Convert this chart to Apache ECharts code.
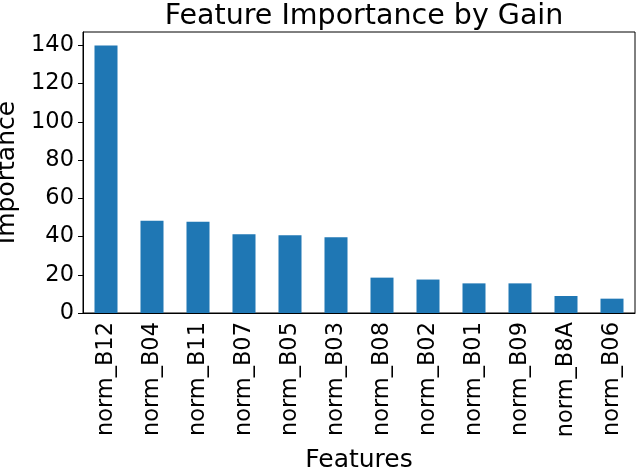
<!DOCTYPE html>
<html>
<head>
<meta charset="utf-8">
<script src="https://cdn.jsdelivr.net/npm/echarts@6/dist/echarts.min.js"></script>
<style>
  html, body { margin: 0; padding: 0; background: #fff; }
  #chart { width: 640px; height: 467px; }
</style>
</head>
<body>
<div id="chart"></div>
<script>
// 特征名 & 增益
const features = ['norm_B12', 'norm_B04', 'norm_B11', 'norm_B07', 'norm_B05', 'norm_B03',
  'norm_B08', 'norm_B02', 'norm_B01', 'norm_B09', 'norm_B8A', 'norm_B06'];
const gains = [140, 48.2, 47.7, 41.2, 40.7, 39.6, 18.5, 17.5, 15.5, 15.5, 8.9, 7.5];
const yTicks = [0, 20, 40, 60, 80, 100, 120, 140];

const font = 'DejaVu Sans';
const myChart = echarts.init(document.getElementById('chart'));

const option = {
  animation: false,
  title: {
    text: 'Feature Importance by Gain',
    left: 359,
    textAlign: 'center',
    top: -3,
    textStyle: { fontFamily: font, fontSize: 28.5, fontWeight: 'normal', color: '#000' }
  },
  grid: {
    left: 83,
    right: 5,
    top: 32,
    bottom: 154,
    outerBoundsMode: 'none',
    containLabel: false,
    show: true,
    borderColor: '#000',
    borderWidth: 1
  },
  xAxis: {
    type: 'category',
    data: features,
    name: 'Features',
    nameLocation: 'middle',
    nameGap: 135,
    nameTextStyle: { fontFamily: font, fontSize: 25, color: '#000' },
    axisLine: { lineStyle: { color: '#000' } },
    axisTick: { alignWithLabel: true, length: 5, lineStyle: { color: '#000' } },
    axisLabel: { rotate: 90, margin: 9, fontFamily: font, fontSize: 22.5, color: '#000' }
  },
  yAxis: {
    type: 'value',
    min: 0,
    max: 147,
    interval: 20,
    name: 'Importance',
    nameLocation: 'middle',
    nameGap: 57,
    nameTextStyle: { fontFamily: font, fontSize: 25, color: '#000' },
    splitLine: { show: false },
    axisLine: { show: true, lineStyle: { color: '#000' } },
    axisTick: { show: true, length: 5, lineStyle: { color: '#000' } },
    axisLabel: {
      margin: 9,
      fontFamily: font,
      fontSize: 22.5,
      color: '#000',
      showMaxLabel: false,
      formatter: v => (yTicks.indexOf(v) >= 0 ? String(v) : '')
    }
  },
  series: [
    {
      type: 'bar',
      data: gains,
      barWidth: '50%',
      itemStyle: { color: '#1f77b4' }
    }
  ]
};

myChart.setOption(option);
</script>
</body>
</html>
